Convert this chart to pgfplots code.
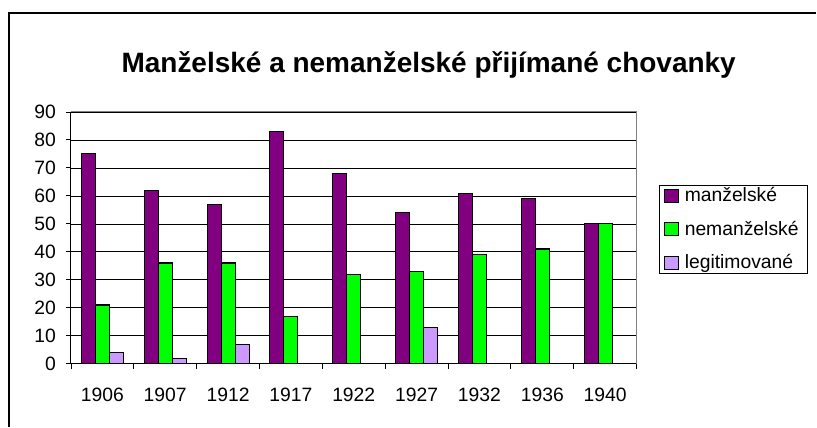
\documentclass[border=0pt]{standalone}
\usepackage{pgfplots}
\pgfplotsset{compat=1.18}
\usepackage{fontspec}
\setmainfont{Liberation Sans}
\definecolor{cpurple}{HTML}{800080}
\definecolor{cgreen}{HTML}{00FF00}
\definecolor{clav}{HTML}{CC99FF}
\pgfplotstableread{
x a b c
0 75 21 4
1 62 36 2
2 57 36 7
3 83 17 0
4 68 32 0
5 54 33 13
6 61 39 0
7 59 41 0
8 50 50 0
}\datatable
\begin{document}
\begin{tikzpicture}
\path (0,0) rectangle (612.75pt,320.25pt);
\draw[line width=0.9pt] (6.75pt,0) -- (6.75pt,310.5pt) -- (612.75pt,310.5pt);
\node[anchor=base,font=\fontsize{21}{24}\selectfont\bfseries] at (321.75pt,265.5pt) {Manželské a nemanželské přijímané chovanky};
\begin{axis}[
  at={(53.25pt,47.25pt)}, anchor=south west,
  scale only axis, width=424.5pt, height=189pt,
  xmin=-0.5, xmax=8.5, ymin=0, ymax=90,
  ytick={0,10,...,90},
  xtick={0,...,8},
  xticklabels={1906,1907,1912,1917,1922,1927,1932,1936,1940},
  minor xtick={-0.5,0.5,...,8.5},
  major x tick style={draw=none},
  tick align=outside,
  major tick length=3.75pt, minor tick length=3.75pt,
  tick style={black, line width=0.6pt},
  ymajorgrids, major grid style={black, line width=0.5pt},
  axis x line*=bottom, axis y line*=left,
  axis line style={black, line width=0.7pt, -},
  ybar=0pt, bar width=10.5pt,
  tick label style={font=\fontsize{14.5}{17}\selectfont},
  /pgf/number format/assume math mode=true,
  xticklabel style={yshift=-11pt},
  yticklabel style={xshift=-4pt},
  legend style={at={(1,0.5)}, anchor=west, xshift=16.5pt, yshift=6.4pt,
    draw=black, line width=0.6pt, font=\fontsize{14.5}{17}\selectfont,
    row sep=9pt, inner xsep=4pt, inner ysep=0pt, text width=86pt},
  legend cell align=left,
  legend image code/.code={\draw[#1, line width=0.8pt] (0pt,-5pt) rectangle (10pt,5pt); \path[draw=none,fill=none] (0pt,0pt) -- (13pt,0pt);},
  after end axis/.code={\draw[gray, line width=0.8pt] (rel axis cs:0,1) -- (rel axis cs:1,1) -- (rel axis cs:1,0);},
]
\addplot[fill=cpurple, draw=black, line width=0.8pt, bar shift=-10.5pt] table[x=x,y=a]{\datatable};
\addplot[fill=cgreen, draw=black, line width=0.8pt, bar shift=0pt] table[x=x,y=b]{\datatable};
\addplot[fill=clav, draw=black, line width=0.8pt, bar shift=10.5pt] table[x=x,y=c]{\datatable};
\legend{manželské,nemanželské,legitimované}
\end{axis}
\end{tikzpicture}
\end{document}
